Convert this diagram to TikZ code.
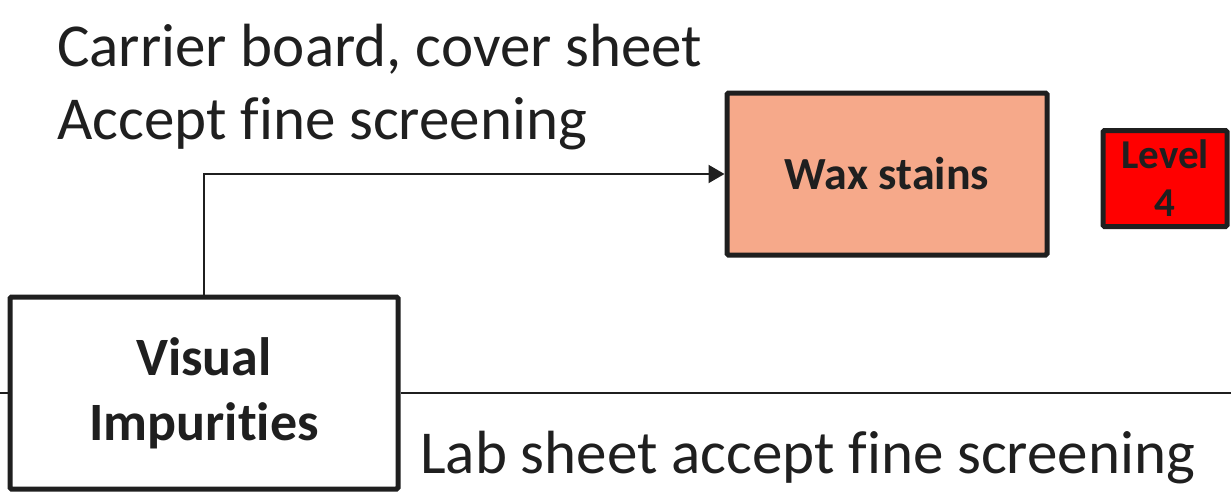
\documentclass[tikz,border=0pt]{standalone}
\usepackage{fontspec}
\setmainfont{Carlito}[Ligatures=CommonOff]
\usetikzlibrary{arrows.meta}
\definecolor{ink}{HTML}{1F1F1F}
\definecolor{salmon}{HTML}{F6A98A}
\definecolor{lvlred}{HTML}{FF0000}
\begin{document}
\begin{tikzpicture}[x=1pt,y=-1pt,
  box/.style={draw=ink, line width=5pt, rounded corners=1.5pt, align=center, inner sep=0pt, text=ink, font=\bfseries},
  conn/.style={draw=ink, line width=2pt},
  lbl/.style={anchor=base west, inner sep=0pt, text=ink, font=\fontsize{61}{70}\selectfont}]
\useasboundingbox (0,0) rectangle (1231,491);
\fill[white] (0,0) rectangle (1231,491);
\node[box, minimum width=388pt, minimum height=192pt, font=\bfseries\fontsize{54}{65}\selectfont] (vis) at (204,393) {Visual\\Impurities};
\node[box, fill=salmon, minimum width=320pt, minimum height=162pt, font=\bfseries\fontsize{46}{50}\selectfont] (wax) at (887,174) {Wax stains};
\node[box, fill=lvlred, minimum width=124pt, minimum height=96pt, font=\bfseries\fontsize{41}{48}\selectfont] (lvl) at (1165,178.5) {Level\\4};
\draw[conn, -{Triangle[length=16pt,width=18pt]}] (vis.north) |- (wax.west);
\coordinate (lft) at (0,393);
\coordinate (rgt) at (1231,393);
\draw[conn] (lft) -- (vis.west);
\draw[conn] (vis.east) -- (rgt);
\node[lbl] (t1) at (57,66) {Carrier board, cover sheet};
\node[lbl] (t2) at (57,139) {Accept fine screening};
\node[lbl] (t3) at (420,473) {Lab sheet accept fine screening};
\end{tikzpicture}
\end{document}
